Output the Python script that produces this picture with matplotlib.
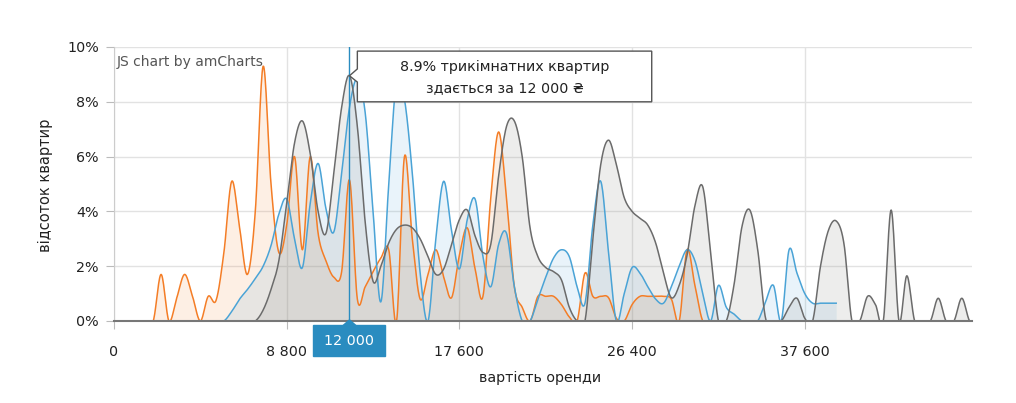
import numpy as np
import matplotlib.pyplot as plt
import matplotlib.transforms as mtransforms
from matplotlib.patches import Polygon, Rectangle

nan = np.nan

# x axis is a category axis: one step per rent bucket, 110 buckets
tick_pos = [0, 22, 44, 66, 88]
tick_labels = ['0', '8 800', '17 600', '26 400', '37 600']
cursor_idx = 30
cursor_label = '12 000'

# share of flats, % (one value per bucket, nan = no data)
one_room = [0, 0, 0, 0, 0, 0, 1.7, 0, 0.85, 1.7,
            0.9, 0, 0.9, 0.75, 2.5, 5.1, 3.4, 1.7, 4.0, 9.3,
            5.0, 2.5, 3.5, 6.0, 2.6, 6.0, 3.2, 2.2, 1.6, 1.8,
            5.15, 0.8, 1.25, 1.8, 2.3, 2.6, 0, 6.0, 3.0, 0.8,
            1.7, 2.6, 1.6, 0.85, 2.4, 3.4, 1.9, 0.9, 4.5, 6.9,
            4.5, 1.25, 0.5, 0, 0.9, 0.9, 0.9, 0.6, 0.15, 0,
            1.75, 0.9, 0.9, 0.85, 0.1, 0, 0.6, 0.9, 0.9, 0.9,
            0.9, 0.8, 0, 2.6, 1.3, 0] + [nan] * 34

two_room = [0, 0, 0, 0, 0, 0, 0, 0, 0, 0,
            0, 0, 0, 0, 0, 0.35, 0.8, 1.15, 1.55, 2.0,
            2.75, 3.9, 4.45, 3.0, 1.95, 4.3, 5.75, 4.1, 3.25, 5.4,
            7.8, 8.85, 7.6, 4.0, 0.7, 5.0, 8.8, 8.1, 5.4, 1.75,
            0, 3.0, 5.1, 3.3, 1.9, 3.7, 4.45, 2.35, 1.25, 2.8,
            3.2, 1.25, 0, 0, 0.8, 1.6, 2.3, 2.6, 2.35, 1.25,
            0.65, 3.5, 5.1, 2.5, 0, 1.0, 1.95, 1.75, 1.25, 0.8,
            0.65, 1.25, 2.0, 2.6, 2.2, 1.0, 0, 1.3, 0.5, 0.25,
            0, 0, 0, 0.7, 1.3, 0, 2.6, 1.75, 1.0, 0.65,
            0.65, 0.65, 0.65] + [nan] * 17

three_room = [0, 0, 0, 0, 0, 0, 0, 0, 0, 0,
              0, 0, 0, 0, 0, 0, 0, 0, 0, 0.4,
              1.15, 2.2, 4.3, 6.5, 7.3, 6.1, 4.0, 3.2, 5.4, 7.8,
              8.95, 7.1, 3.6, 1.45, 2.0, 2.85, 3.35, 3.5, 3.4, 3.0,
              2.35, 1.7, 1.9, 2.8, 3.7, 4.05, 3.1, 2.5, 2.8, 5.3,
              7.1, 7.3, 6.0, 3.4, 2.35, 1.95, 1.8, 1.5, 0.5, 0,
              0, 3.0, 5.7, 6.6, 5.7, 4.5, 4.0, 3.75, 3.5, 2.85,
              1.75, 0.85, 1.3, 2.4, 4.2, 4.9, 2.5, 0, 0, 1.35,
              3.45, 4.05, 2.6, 0.1, 0, 0, 0.5, 0.83, 0.1, 0,
              2.0, 3.3, 3.65, 2.8, 0, 0, 0.9, 0.6, 0, 4.05,
              0, 1.65, 0, 0, 0, 0.83, 0, 0, 0.83, 0]


def smooth(vals, n=16):
    # bezier smoothing like amCharts smoothedLine
    y = np.asarray(vals, float)
    last = np.where(~np.isnan(y))[0].max()
    y = y[:last + 1]
    t = np.linspace(0, 1, n, endpoint=False)
    xs, ys = [], []
    for i in range(len(y) - 1):
        ya = y[i - 1] if i > 0 else y[i]
        yd = y[i + 2] if i + 2 < len(y) else y[i + 1]
        c1 = y[i] + (y[i + 1] - ya) / 6
        c2 = y[i + 1] - (yd - y[i]) / 6
        b = ((1 - t) ** 3 * y[i] + 3 * (1 - t) ** 2 * t * c1
             + 3 * (1 - t) * t ** 2 * c2 + t ** 3 * y[i + 1])
        xs.append(i + t)
        ys.append(b)
    xs.append([len(y) - 1])
    ys.append([y[-1]])
    return np.concatenate(xs), np.clip(np.concatenate(ys), 0, None)


fig = plt.figure(figsize=(10.16, 4.03), dpi=100)
ax = fig.add_axes([114 / 1016, 82 / 403, 858 / 1016, 274 / 403])

series = [
    (one_room, '#f47d26', '#f47d26', 0.12),
    (two_room, '#4aa3d6', '#4aa3d6', 0.12),
    (three_room, '#6b6b6b', '#8c8c84', 0.15),
]
for vals, col, fill, a in series:
    xs, ys = smooth(vals)
    ax.fill_between(xs, ys, color=fill, alpha=a, lw=0)
    ax.plot(xs, ys, color=col, lw=1.1)

ax.set_xlim(0, 109.3)
ax.set_ylim(0, 10)
ax.set_yticks(range(0, 11, 2))
ax.set_yticklabels([f'{v}%' for v in range(0, 11, 2)])
ax.set_xticks(tick_pos)
ax.set_xticklabels(tick_labels)
ax.set_axisbelow(True)
ax.grid(True, color='#e2e2e2', lw=1)
for s in ['top', 'right']:
    ax.spines[s].set_visible(False)
ax.spines['left'].set_color('#cccccc')
ax.spines['bottom'].set_color('#777777')
ax.spines['bottom'].set_linewidth(1.5)
ax.tick_params(axis='y', length=6, color='#bbbbbb', labelsize=10.3, pad=5, labelcolor='#222222')
ax.tick_params(axis='x', length=6, color='#bbbbbb', labelsize=10.3, pad=11, labelcolor='#222222')

ax.text(0.003, 0.945, 'JS chart by amCharts', transform=ax.transAxes,
        fontsize=10, color='#555555', va='center')

fig.text(45 / 1016, 1 - 185 / 403, 'відсоток квартир', rotation=90,
         ha='center', va='center', fontsize=10.5, color='#222222')
fig.text(540 / 1016, 1 - 378 / 403, 'вартість оренди',
         ha='center', va='center', fontsize=10.3, color='#222222')

# cursor line and its label on the axis
cc = '#2a8cc0'
ax.axvline(cursor_idx, color=cc, lw=1, zorder=5)
trans = mtransforms.blended_transform_factory(ax.transData, ax.transAxes)
ax.add_patch(Rectangle((cursor_idx - 4.6, -0.128), 9.1, 0.113, transform=trans,
                       color=cc, clip_on=False, zorder=10))
ax.add_patch(Polygon([(cursor_idx - 0.8, -0.016), (cursor_idx + 0.8, -0.016),
                      (cursor_idx, 0.004)], transform=trans, color=cc,
                     clip_on=False, zorder=10))
ax.text(cursor_idx, -0.072, cursor_label, transform=trans, color='white',
        ha='center', va='center', fontsize=10.3, zorder=11)

# balloon
peak = three_room[cursor_idx]
ax.add_patch(Polygon([(31, 9.85), (68.5, 9.85), (68.5, 8.0), (31, 8.0),
                      (31, 8.72), (cursor_idx, peak), (31, 9.2)],
                     closed=True, facecolor='white', edgecolor='#555555',
                     lw=1, clip_on=False, zorder=12))
ax.text(49.8, 9.27, '8.9% трикімнатних квартир', ha='center', va='center',
        fontsize=10.3, color='#222222', zorder=13)
ax.text(49.8, 8.5, 'здається за 12 000 ₴', ha='center', va='center',
        fontsize=10.3, color='#222222', zorder=13)

fig.savefig('out.png', dpi=100)
